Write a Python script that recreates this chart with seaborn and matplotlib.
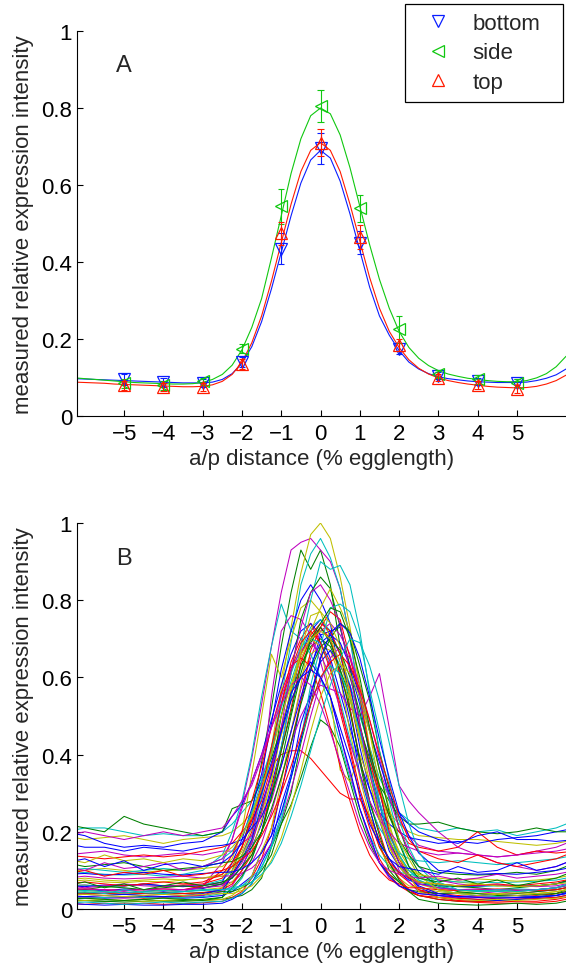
import numpy as np
import pandas as pd
import seaborn as sns
import matplotlib
matplotlib.use("Agg")
import matplotlib.pyplot as plt
from matplotlib.lines import Line2D

# ---------------- panel A: mean profiles ----------------
views = ["bottom", "side", "top"]
view_markers = {"bottom": "v", "side": "<", "top": "^"}
view_colors = {"bottom": "#0a1eff", "side": "#10c810", "top": "#ff1a00"}

point_x = [-5, -4, -3, -2, -1, 0, 1, 2, 3, 4, 5]
bottom_pts = [.095, .088, .085, .14, .435, .695, .45, .175, .105, .09, .085]
side_pts = [.085, .08, .09, .175, .545, .805, .54, .225, .11, .095, .085]
top_pts = [.08, .075, .075, .135, .475, .71, .465, .185, .1, .08, .07]
bottom_err = [.015, .012, .01, .012, .04, .04, .03, .015, .01, .01, .01]
side_err = [.012, .012, .01, .012, .045, .042, .035, .035, .01, .012, .01]
top_err = [.012, .01, .01, .012, .03, .035, .03, .015, .01, .01, .01]

# fitted curves, sampled every 0.25 from -6.25 to 6.25
curve_x = np.arange(-6.25, 6.26, 0.25)
bottom_fit = [.097, .096, .095, .094, .093, .092, .091, .090, .089, .088, .087, .086, .086, .086,
              .088, .095, .11, .137, .18, .245, .33, .425, .52, .605, .665, .69,
              .67, .61, .525, .43, .335, .26, .21, .17, .14, .122, .11, .102,
              .097, .094, .091, .089, .088, .087, .087, .087, .088, .092, .098, .107, .122]
side_fit = [.099, .097, .095, .093, .091, .089, .087, .086, .085, .084, .083, .083, .084, .087,
            .095, .108, .132, .172, .23, .305, .41, .52, .63, .72, .78, .80,
            .785, .73, .645, .545, .445, .355, .28, .22, .178, .15, .131, .118,
            .109, .103, .098, .095, .092, .09, .089, .089, .092, .099, .11, .128, .155]
top_fit = [.088, .087, .086, .085, .083, .082, .081, .08, .079, .078, .077, .076, .076, .077,
           .081, .09, .108, .14, .19, .26, .35, .45, .55, .635, .69, .71,
           .69, .635, .55, .455, .36, .28, .22, .178, .146, .124, .109, .099,
           .092, .087, .083, .08, .077, .075, .074, .073, .074, .077, .083, .092, .106]

# ---------------- panel B: individual embryos ----------------
# coarse in the tails, 0.25 steps through the stripe
line_x = ([-6.5, -6, -5.5, -5, -4.5, -4, -3.5, -3, -2.5]
          + list(np.arange(-2.25, 2.26, 0.25))
          + [2.5, 3, 3.5, 4, 4.5, 5, 5.5, 6, 6.5])

blue_lines = [
    [.052, .05, .047, .052, .05, .046, .05, .053, .065, .08, .11, .16, .22, .32, .42, .55, .66, .72, .75, .71, .66, .55, .42, .31, .23, .15, .11, .08, .065, .055, .05, .048, .05, .045, .05, .055, .07],
    [.03, .032, .028, .03, .033, .03, .028, .03, .035, .045, .065, .085, .15, .19, .31, .40, .54, .62, .71, .72, .73, .62, .53, .40, .31, .19, .14, .09, .056, .035, .028, .025, .022, .025, .027, .03, .04],
    [.2, .19, .17, .16, .165, .16, .17, .175, .2, .24, .27, .33, .4, .49, .58, .66, .72, .74, .71, .65, .56, .47, .38, .31, .25, .22, .2, .185, .18, .17, .175, .17, .18, .185, .19, .2, .21],
    [.06, .058, .062, .06, .065, .06, .058, .06, .07, .12, .18, .26, .35, .48, .62, .72, .80, .84, .80, .74, .60, .49, .35, .26, .17, .13, .095, .075, .065, .06, .058, .06, .062, .058, .06, .065, .08],
    [.015, .012, .01, .012, .01, .01, .012, .012, .015, .025, .04, .065, .12, .17, .27, .35, .48, .56, .64, .67, .63, .58, .46, .37, .27, .18, .12, .08, .06, .04, .032, .03, .028, .03, .03, .035, .05],
    [.17, .16, .16, .15, .16, .155, .15, .16, .165, .17, .18, .21, .24, .3, .37, .46, .55, .63, .69, .71, .69, .63, .55, .46, .38, .3, .25, .22, .2, .18, .17, .19, .2, .18, .18, .175, .18],
    [.035, .032, .035, .038, .035, .032, .035, .04, .05, .085, .13, .18, .27, .35, .46, .56, .6, .64, .6, .55, .45, .36, .26, .19, .12, .085, .06, .05, .04, .035, .032, .035, .038, .035, .032, .035, .045],
    [.09, .092, .088, .09, .095, .09, .088, .092, .095, .096, .104, .12, .145, .19, .25, .34, .44, .55, .65, .715, .74, .715, .65, .55, .44, .34, .25, .19, .145, .1, .095, .09, .092, .09, .095, .1, .11],
    [.12, .13, .11, .125, .1, .115, .12, .11, .12, .14, .17, .22, .3, .38, .46, .54, .6, .62, .6, .55, .47, .39, .3, .22, .17, .13, .11, .105, .1, .09, .11, .095, .1, .12, .1, .11, .13],
]
green_lines = [
    [.025, .022, .02, .022, .025, .02, .022, .025, .03, .10, .16, .25, .38, .52, .68, .82, .93, .88, .93, .84, .68, .52, .38, .26, .17, .10, .07, .045, .035, .025, .02, .02, .022, .025, .03, .04, .06],
    [.02, .022, .02, .018, .02, .022, .02, .022, .025, .03, .035, .05, .08, .16, .22, .27, .34, .42, .49, .47, .42, .33, .24, .17, .12, .09, .07, .05, .045, .04, .042, .04, .038, .04, .045, .05, .06],
    [.22, .21, .2, .24, .22, .21, .2, .19, .2, .26, .27, .28, .33, .39, .47, .56, .63, .68, .70, .68, .62, .55, .47, .39, .32, .28, .24, .22, .22, .225, .21, .2, .195, .2, .21, .2, .2],
    [.04, .042, .04, .038, .04, .042, .04, .043, .045, .045, .055, .07, .1, .14, .22, .3, .43, .53, .65, .70, .74, .72, .63, .54, .41, .31, .21, .14, .095, .06, .045, .04, .035, .035, .038, .04, .05],
    [.055, .05, .058, .055, .05, .055, .06, .055, .065, .09, .125, .17, .26, .35, .5, .61, .75, .82, .86, .83, .73, .63, .48, .37, .25, .18, .12, .09, .07, .06, .058, .055, .05, .055, .06, .065, .08],
    [.025, .028, .025, .022, .025, .028, .025, .022, .03, .055, .085, .13, .2, .29, .41, .51, .63, .69, .73, .69, .62, .51, .39, .28, .19, .12, .075, .045, .025, .015, .012, .01, .012, .015, .012, .015, .025],
    [.12, .11, .115, .12, .11, .1, .105, .11, .12, .123, .136, .16, .2, .26, .34, .43, .53, .62, .68, .7, .67, .6, .51, .41, .32, .24, .18, .14, .11, .095, .09, .088, .09, .095, .09, .1, .12],
    [.06, .07, .055, .065, .05, .06, .07, .06, .07, .08, .11, .14, .2, .29, .38, .5, .61, .7, .74, .78, .77, .7, .6, .47, .36, .25, .17, .11, .08, .07, .08, .065, .075, .06, .07, .08, .1],
]
red_lines = [
    [.06, .062, .058, .06, .065, .06, .062, .065, .08, .11, .16, .24, .32, .37, .40, .41, .41, .39, .36, .33, .30, .285, .285, .24, .18, .13, .09, .07, .05, .04, .035, .03, .032, .03, .035, .04, .05],
    [.03, .028, .03, .032, .028, .03, .033, .035, .055, .09, .14, .2, .31, .40, .53, .64, .70, .74, .69, .64, .51, .41, .29, .21, .13, .09, .06, .045, .035, .03, .028, .025, .028, .03, .028, .03, .04],
    [.015, .012, .015, .013, .015, .012, .014, .016, .02, .03, .045, .08, .13, .21, .3, .43, .54, .67, .73, .77, .75, .65, .55, .41, .31, .2, .13, .085, .05, .03, .022, .02, .018, .02, .02, .025, .035],
    [.14, .135, .13, .135, .14, .135, .14, .15, .16, .17, .2, .23, .28, .37, .47, .56, .66, .71, .74, .72, .66, .57, .47, .38, .3, .24, .2, .17, .16, .15, .16, .2, .16, .14, .15, .145, .15],
    [.04, .038, .04, .042, .04, .038, .04, .042, .05, .065, .1, .14, .2, .31, .41, .52, .64, .7, .73, .7, .61, .52, .39, .28, .2, .12, .08, .05, .035, .025, .02, .017, .015, .015, .016, .02, .03],
    [.05, .052, .05, .048, .05, .052, .05, .06, .1, .14, .2, .28, .37, .47, .56, .63, .65, .63, .56, .47, .37, .28, .2, .14, .1, .075, .065, .055, .055, .05, .048, .05, .052, .05, .048, .05, .06],
    [.065, .07, .065, .06, .065, .07, .065, .07, .09, .12, .16, .23, .31, .42, .53, .62, .69, .72, .69, .62, .53, .42, .31, .23, .16, .12, .095, .08, .07, .065, .06, .062, .065, .06, .065, .07, .08],
    [.09, .1, .085, .095, .09, .1, .085, .09, .1, .11, .13, .15, .19, .24, .3, .37, .45, .53, .6, .64, .66, .63, .57, .49, .4, .32, .24, .18, .15, .13, .12, .14, .12, .11, .12, .13, .15],
]
cyan_lines = [
    [.20, .21, .21, .20, .19, .195, .19, .19, .2, .22, .25, .28, .34, .41, .5, .59, .67, .73, .75, .72, .66, .58, .5, .42, .34, .29, .25, .23, .21, .2, .21, .2, .205, .19, .2, .21, .23],
    [.06, .062, .058, .06, .063, .06, .058, .062, .075, .1, .14, .19, .29, .40, .55, .69, .84, .92, .96, .91, .83, .70, .54, .41, .28, .2, .14, .1, .08, .065, .06, .058, .06, .062, .06, .065, .075],
    [.09, .095, .09, .088, .09, .085, .09, .1, .14, .2, .28, .4, .55, .68, .79, .72, .7, .66, .6, .52, .43, .34, .26, .19, .14, .11, .095, .09, .085, .075, .07, .07, .068, .07, .072, .075, .085],
    [.03, .028, .03, .032, .03, .028, .03, .032, .04, .05, .08, .13, .2, .3, .42, .55, .68, .8, .9, .88, .89, .84, .72, .56, .41, .28, .18, .11, .075, .05, .04, .035, .032, .03, .033, .035, .045],
    [.1, .105, .1, .095, .1, .105, .1, .11, .13, .15, .19, .25, .33, .42, .52, .61, .68, .7, .69, .63, .54, .44, .35, .27, .21, .17, .145, .13, .125, .12, .125, .12, .115, .12, .125, .13, .14],
    [.045, .048, .045, .042, .045, .048, .045, .048, .05, .05, .06, .08, .11, .16, .23, .34, .44, .58, .68, .78, .79, .77, .70, .57, .46, .33, .23, .16, .11, .06, .05, .048, .045, .048, .05, .055, .07],
    [.015, .018, .015, .012, .015, .018, .015, .018, .02, .028, .041, .066, .106, .164, .244, .34, .44, .53, .6, .63, .61, .55, .46, .36, .27, .19, .14, .1, .075, .055, .05, .048, .05, .052, .05, .055, .065],
    [.04, .045, .04, .05, .042, .04, .045, .05, .05, .055, .06, .07, .09, .12, .17, .24, .32, .41, .5, .58, .65, .7, .69, .63, .54, .43, .32, .22, .15, .07, .05, .045, .05, .045, .05, .055, .07],
]
magenta_lines = [
    [.045, .04, .042, .045, .04, .042, .045, .06, .12, .18, .27, .39, .53, .68, .82, .93, .95, .96, .93, .9, .83, .7, .55, .4, .28, .17, .1, .07, .045, .04, .042, .04, .045, .04, .045, .05, .06],
    [.14, .145, .15, .14, .135, .14, .145, .14, .15, .15, .17, .19, .24, .28, .37, .46, .57, .65, .72, .74, .71, .66, .56, .47, .36, .29, .23, .19, .165, .15, .145, .14, .135, .14, .15, .16, .18],
    [.03, .032, .03, .028, .03, .032, .03, .035, .045, .06, .1, .18, .32, .55, .72, .76, .75, .71, .64, .55, .45, .35, .26, .18, .12, .08, .06, .05, .04, .035, .03, .032, .03, .028, .03, .035, .045],
    [.06, .055, .06, .065, .06, .058, .06, .062, .065, .07, .09, .12, .17, .25, .34, .43, .5, .55, .58, .57, .56, .52, .5, .55, .61, .47, .32, .28, .25, .2, .16, .14, .12, .11, .1, .11, .13],
    [.08, .085, .08, .078, .08, .082, .085, .08, .085, .086, .093, .106, .13, .17, .23, .31, .4, .5, .59, .65, .68, .65, .58, .49, .39, .29, .21, .15, .11, .075, .065, .06, .062, .06, .058, .06, .07],
    [.19, .2, .19, .18, .19, .2, .19, .2, .21, .24, .28, .32, .39, .47, .55, .62, .67, .69, .66, .6, .52, .43, .35, .28, .23, .2, .17, .16, .15, .14, .145, .14, .135, .14, .145, .15, .16],
    [.05, .052, .05, .048, .05, .052, .05, .055, .06, .085, .12, .17, .25, .36, .47, .62, .73, .82, .84, .8, .74, .61, .48, .35, .25, .17, .12, .085, .065, .055, .05, .052, .05, .048, .05, .055, .065],
    [.11, .1, .12, .105, .11, .12, .1, .11, .13, .18, .26, .33, .4, .47, .53, .58, .6, .58, .53, .46, .38, .3, .22, .16, .12, .1, .09, .085, .08, .085, .075, .08, .09, .08, .085, .09, .1],
]
yellow_lines = [
    [.07, .075, .07, .068, .072, .07, .075, .08, .09, .11, .15, .21, .30, .42, .57, .73, .87, .97, 1.0, .96, .86, .73, .57, .42, .3, .21, .15, .11, .09, .075, .07, .065, .06, .062, .06, .065, .08],
    [.19, .18, .185, .19, .18, .17, .18, .185, .19, .2, .22, .25, .31, .37, .45, .54, .6, .66, .68, .67, .6, .54, .44, .37, .3, .25, .22, .2, .19, .185, .18, .18, .175, .17, .165, .17, .18],
    [.1, .1, .105, .1, .095, .1, .1, .105, .11, .13, .2, .35, .5, .66, .6, .7, .78, .8, .77, .7, .6, .46, .34, .24, .16, .11, .08, .06, .055, .045, .042, .04, .04, .042, .04, .045, .055],
    [.045, .048, .045, .042, .045, .048, .045, .05, .055, .07, .1, .15, .23, .34, .46, .57, .65, .7, .68, .55, .36, .33, .4, .33, .24, .16, .11, .08, .065, .05, .048, .045, .047, .045, .05, .055, .065],
    [.02, .022, .025, .022, .02, .022, .025, .022, .025, .035, .055, .085, .15, .21, .33, .46, .58, .72, .78, .83, .78, .72, .58, .46, .32, .22, .14, .09, .045, .03, .025, .022, .025, .022, .025, .028, .035],
    [.075, .08, .075, .072, .075, .078, .075, .08, .085, .1, .14, .18, .25, .33, .46, .57, .67, .76, .77, .74, .68, .56, .45, .35, .25, .18, .13, .1, .09, .08, .075, .078, .075, .072, .075, .08, .09],
    [.035, .038, .035, .032, .035, .038, .035, .038, .04, .04, .048, .06, .086, .126, .184, .264, .358, .46, .55, .61, .635, .61, .55, .46, .36, .26, .18, .13, .086, .05, .04, .035, .038, .035, .04, .045, .055],
    [.13, .12, .14, .125, .13, .12, .13, .125, .14, .16, .19, .24, .31, .4, .5, .58, .66, .7, .72, .7, .64, .55, .44, .33, .23, .16, .11, .085, .07, .065, .06, .065, .06, .058, .06, .065, .07],
]
line_groups = [blue_lines, green_lines, red_lines, cyan_lines, magenta_lines, yellow_lines]
group_colors = ["#0000ff", "#008000", "#ff0000", "#00bfbf", "#bf00bf", "#bfbf00"]

xticks = list(range(-5, 6))
yticks = [0, 0.2, 0.4, 0.6, 0.8, 1]
ytick_labels = ["0", "0.2", "0.4", "0.6", "0.8", "1"]
xlabel = "a/p distance (% egglength)"
ylabel = "measured relative expression intensity"

# ---------------- style ----------------
sns.set_style("ticks")
plt.rcParams["font.family"] = ["Liberation Sans", "DejaVu Sans"]
plt.rcParams["font.size"] = 16

fig = plt.figure(figsize=(5.66, 9.70), dpi=100)
ax_a = fig.add_axes([77 / 566, 553 / 970, 489 / 566, 385 / 970])
ax_b = fig.add_axes([77 / 566, 60 / 970, 489 / 566, 386 / 970])


def style_axis(ax, letter):
    ax.set_xlim(-6.2, 6.25)
    ax.set_ylim(0, 1)
    ax.set_xticks(xticks)
    ax.set_yticks(yticks)
    ax.set_yticklabels(ytick_labels)
    ax.tick_params(direction="in", length=4, width=0.8, labelsize=16, colors="black")
    ax.tick_params(axis="x", pad=5)
    ax.tick_params(axis="y", pad=3.5)
    sns.despine(ax=ax)
    for side in ["left", "bottom"]:
        ax.spines[side].set_linewidth(0.8)
        ax.spines[side].set_color("black")
    ax.set_xlabel(xlabel, fontsize=16, labelpad=3)
    ax.set_ylabel(ylabel, fontsize=16, labelpad=5)
    ax.text(-5.2, 0.895, letter, fontsize=17, ha="left", va="baseline")


# panel A
fits = {"bottom": bottom_fit, "side": side_fit, "top": top_fit}
curve_df = pd.concat([pd.DataFrame({"x": curve_x, "y": fits[v], "view": v}) for v in views])
sns.lineplot(data=curve_df, x="x", y="y", hue="view", palette=view_colors,
             estimator=None, sort=False, linewidth=0.8, legend=False, ax=ax_a)

pts = {"bottom": (bottom_pts, bottom_err), "side": (side_pts, side_err), "top": (top_pts, top_err)}
cap = 0.08  # half width of the error bar caps, in x units
for v in views:
    vals, errs = pts[v]
    lo = np.array(vals) - np.array(errs)
    hi = np.array(vals) + np.array(errs)
    px = np.array(point_x, dtype=float)
    ax_a.vlines(px, lo, hi, colors=view_colors[v], linewidth=0.8)
    ax_a.hlines(lo, px - cap, px + cap, colors=view_colors[v], linewidth=0.8)
    ax_a.hlines(hi, px - cap, px + cap, colors=view_colors[v], linewidth=0.8)
    ax_a.plot(point_x, vals, linestyle="none", marker=view_markers[v], markersize=9,
              markerfacecolor="none", markeredgecolor=view_colors[v], markeredgewidth=0.9)
style_axis(ax_a, "A")

handles = [Line2D([], [], linestyle="none", marker=view_markers[v], markersize=9,
                  markerfacecolor="none", markeredgecolor=view_colors[v], markeredgewidth=0.9)
           for v in views]
leg = fig.legend(handles, views, loc="upper left",
                 bbox_to_anchor=(405 / 566, 1 - 100 / 970, 158 / 566, 95 / 970),
                 mode="expand", borderaxespad=0, fontsize=16, frameon=True, fancybox=False,
                 edgecolor="black", framealpha=1, borderpad=0.4, handlelength=2.2,
                 handletextpad=0.45, labelspacing=0.38)
leg.get_frame().set_linewidth(0.9)

# panel B: interleave colours in plotting order
rows = []
palette = []
n_max = max(len(g) for g in line_groups)
k = 0
for i in range(n_max):
    for g, col in zip(line_groups, group_colors):
        if i < len(g):
            rows.append(pd.DataFrame({"x": line_x, "y": g[i], "line": k}))
            palette.append(col)
            k += 1
b_df = pd.concat(rows)
sns.lineplot(data=b_df, x="x", y="y", hue="line", palette=palette,
             estimator=None, sort=False, linewidth=0.75, legend=False, ax=ax_b)
style_axis(ax_b, "B")

fig.savefig("out.png", dpi=100)
